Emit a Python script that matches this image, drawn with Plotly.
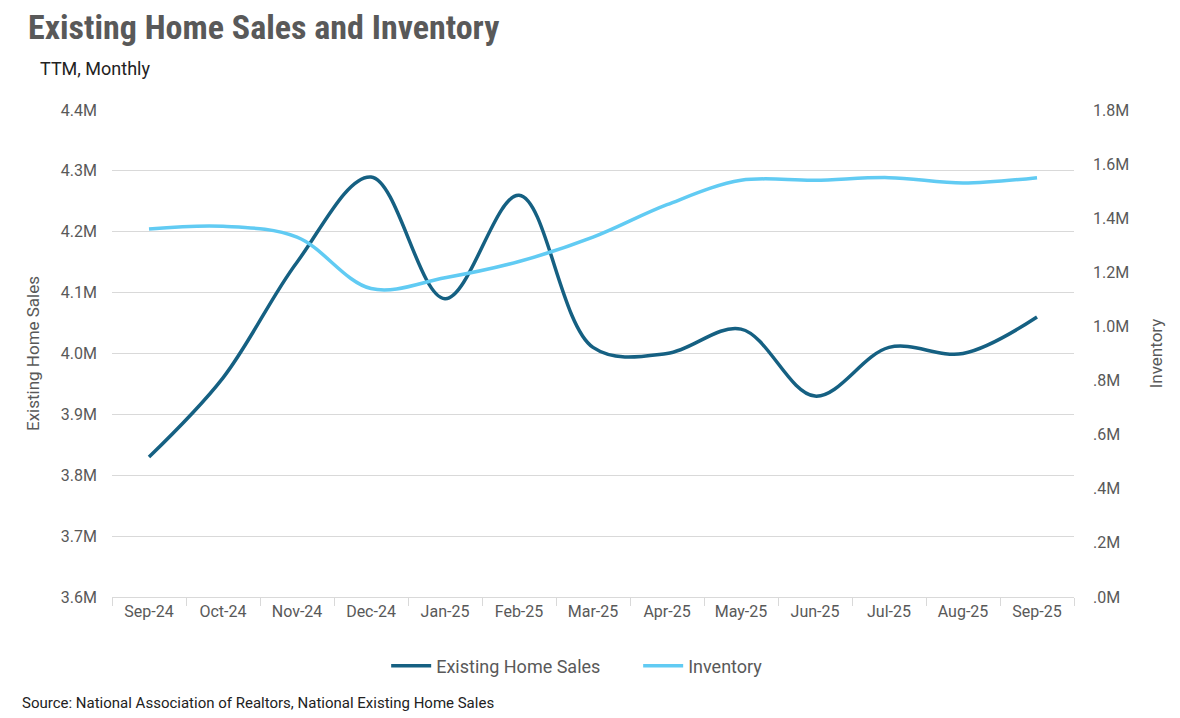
import plotly.graph_objects as go

months = ["Sep-24", "Oct-24", "Nov-24", "Dec-24", "Jan-25", "Feb-25", "Mar-25",
          "Apr-25", "May-25", "Jun-25", "Jul-25", "Aug-25", "Sep-25"]
sales_m = [3.83, 3.96, 4.15, 4.29, 4.09, 4.26, 4.01, 4.00, 4.04, 3.93, 4.01, 4.00, 4.06]
inventory_m = [1.36, 1.37, 1.33, 1.14, 1.18, 1.24, 1.33, 1.45, 1.54, 1.54, 1.55, 1.53, 1.55]

left_ticks = [3.6, 3.7, 3.8, 3.9, 4.0, 4.1, 4.2, 4.3, 4.4]
right_ticks = [0.0, 0.2, 0.4, 0.6, 0.8, 1.0, 1.2, 1.4, 1.6, 1.8]

def right_label(v):
    s = f"{v:.1f}"
    if s.startswith("0"):
        s = s[1:]
    return s + "M"

DARK = "#156082"
LIGHT = "#61CBF3"
GRAY = "#595959"
FONT = "Roboto"
NARROW = "Liberation Sans Narrow, Roboto Condensed, DejaVu Sans Condensed, Roboto"

fig = go.Figure()
fig.add_trace(go.Scatter(x=months, y=sales_m, name="Existing Home Sales", mode="lines",
                         line=dict(color=DARK, width=3.5, shape="spline", smoothing=1.0),
                         yaxis="y"))
fig.add_trace(go.Scatter(x=months, y=inventory_m, name="Inventory", mode="lines",
                         line=dict(color=LIGHT, width=3.5, shape="spline", smoothing=1.0),
                         yaxis="y2"))

fig.update_layout(
    width=1180, height=718,
    margin=dict(l=104, r=114, t=102, b=129),
    paper_bgcolor="white", plot_bgcolor="white",
    font=dict(family=FONT, color=GRAY, size=16),
    showlegend=True,
    legend=dict(orientation="h", x=0.285, xanchor="left", y=-0.142, yanchor="middle",
                font=dict(size=18, color=GRAY, family=FONT), itemwidth=40,
                entrywidth=197, entrywidthmode="pixels",
                traceorder="normal"),
    xaxis=dict(type="category", showgrid=False, showline=True, linecolor="#D9D9D9",
               linewidth=1, ticks="outside", tickson="boundaries", ticklen=8,
               tickcolor="#D9D9D9", tickfont=dict(size=16, color=GRAY),
               range=[-0.5, 12.5]),
    yaxis=dict(range=[3.6, 4.4], tickvals=left_ticks,
               ticktext=[f"{v:.1f}M" for v in left_ticks],
               showgrid=True, gridcolor="#D9D9D9", gridwidth=1, zeroline=False,
               showline=False, ticks="", ticklabelstandoff=14,
               tickfont=dict(size=16, color=GRAY),
               title=dict(text="Existing Home Sales", font=dict(size=17, color=GRAY), standoff=16)),
    yaxis2=dict(range=[0, 1.8], tickvals=right_ticks,
                ticktext=[right_label(v) for v in right_ticks],
                overlaying="y", side="right", showgrid=False, zeroline=False,
                showline=False, ticks="", ticklabelstandoff=18,
                tickfont=dict(size=16, color=GRAY),
                title=dict(text="Inventory", font=dict(size=17, color=GRAY), standoff=21)),
)

fig.add_annotation(text="<b>Existing Home Sales and Inventory</b>", xref="paper", yref="paper",
                   x=0, y=1, xanchor="left", yanchor="middle", showarrow=False,
                   xshift=-86, yshift=83, font=dict(size=34, color=GRAY, family=NARROW))
fig.add_annotation(text="TTM, Monthly", xref="paper", yref="paper",
                   x=0, y=1, xanchor="left", yanchor="middle", showarrow=False,
                   xshift=-74, yshift=42, font=dict(size=18, color="#222222", family=FONT))
fig.add_annotation(text="Source: National Association of Realtors, National Existing Home Sales",
                   xref="paper", yref="paper", x=0, y=0, xanchor="left", yanchor="middle",
                   showarrow=False, xshift=-92, yshift=-106,
                   font=dict(size=15, color="#222222", family=FONT))

fig.write_html("out.html")
